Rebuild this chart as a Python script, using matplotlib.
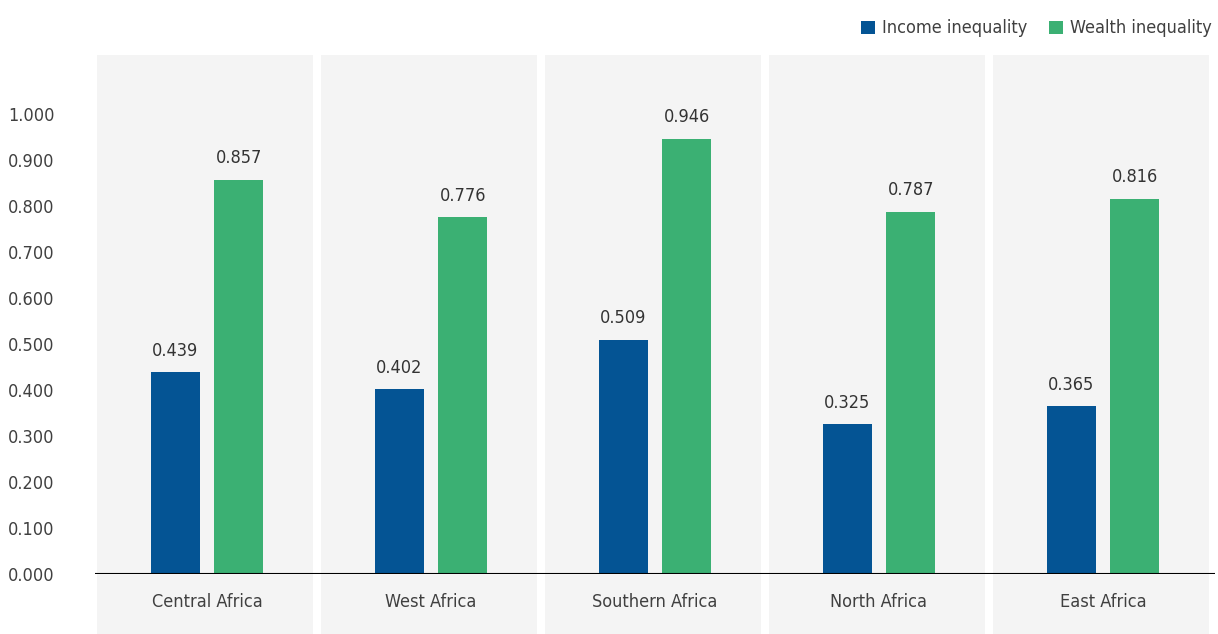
import matplotlib.pyplot as plt
import matplotlib.patches as patches
import numpy as np

regions = ['Central Africa', 'West Africa', 'Southern Africa', 'North Africa', 'East Africa']
income = [0.439, 0.402, 0.509, 0.325, 0.365]
wealth = [0.857, 0.776, 0.946, 0.787, 0.816]
yticks = [0.0, 0.1, 0.2, 0.3, 0.4, 0.5, 0.6, 0.7, 0.8, 0.9, 1.0]

BLUE = '#045494'
GREEN = '#3bb073'
PANEL = '#f4f4f4'
TXT = '#404040'

plt.rcParams['font.family'] = ['DejaVu Sans']
plt.rcParams['font.stretch'] = 'condensed'

W, H = 1218, 634
fig = plt.figure(figsize=(W / 100, H / 100), dpi=100)
ax = fig.add_axes([95 / W, (H - 574) / H, 1120 / W, (574 - 55) / H])

x = np.arange(len(regions))
ax.set_xlim(-0.5, len(regions) - 0.5)
ax.set_ylim(0, 1.128)

# grey panels behind each group, running down into the label area
for xi in x:
    ax.add_patch(patches.Rectangle((xi - 0.49, -0.13), 0.965, 1.258,
                                   facecolor=PANEL, edgecolor='none',
                                   clip_on=False, zorder=0))

bw = 0.22
off = 0.142
b1 = ax.bar(x - off, income, bw, color=BLUE, zorder=2, label='Income inequality')
b2 = ax.bar(x + off, wealth, bw, color=GREEN, zorder=2, label='Wealth inequality')

for bars, vals in [(b1, income), (b2, wealth)]:
    for r, v in zip(bars, vals):
        ax.text(r.get_x() + r.get_width() / 2, v + 0.027, f'{v:.3f}',
                ha='center', va='bottom', fontsize=13, color='#333333')

ax.axhline(0, color='black', lw=1.5, zorder=3)

ax.set_yticks(yticks)
ax.set_yticklabels([f'{t:.3f}' for t in yticks])
ax.set_xticks(x)
ax.set_xticklabels(regions)
ax.tick_params(axis='y', length=0, labelsize=13, labelcolor=TXT, pad=29)
ax.tick_params(axis='x', length=0, labelsize=13, labelcolor=TXT, pad=14)
for s in ax.spines.values():
    s.set_visible(False)
ax.set_facecolor('none')

fig.legend(handles=[b1, b2], loc='upper right', bbox_to_anchor=(1.003, 0.985),
           ncol=2, frameon=False, fontsize=13, labelcolor=TXT,
           handlelength=0.75, handleheight=0.75, handletextpad=0.4,
           columnspacing=1.2, borderaxespad=0.15)

fig.savefig('out.png', dpi=100)
